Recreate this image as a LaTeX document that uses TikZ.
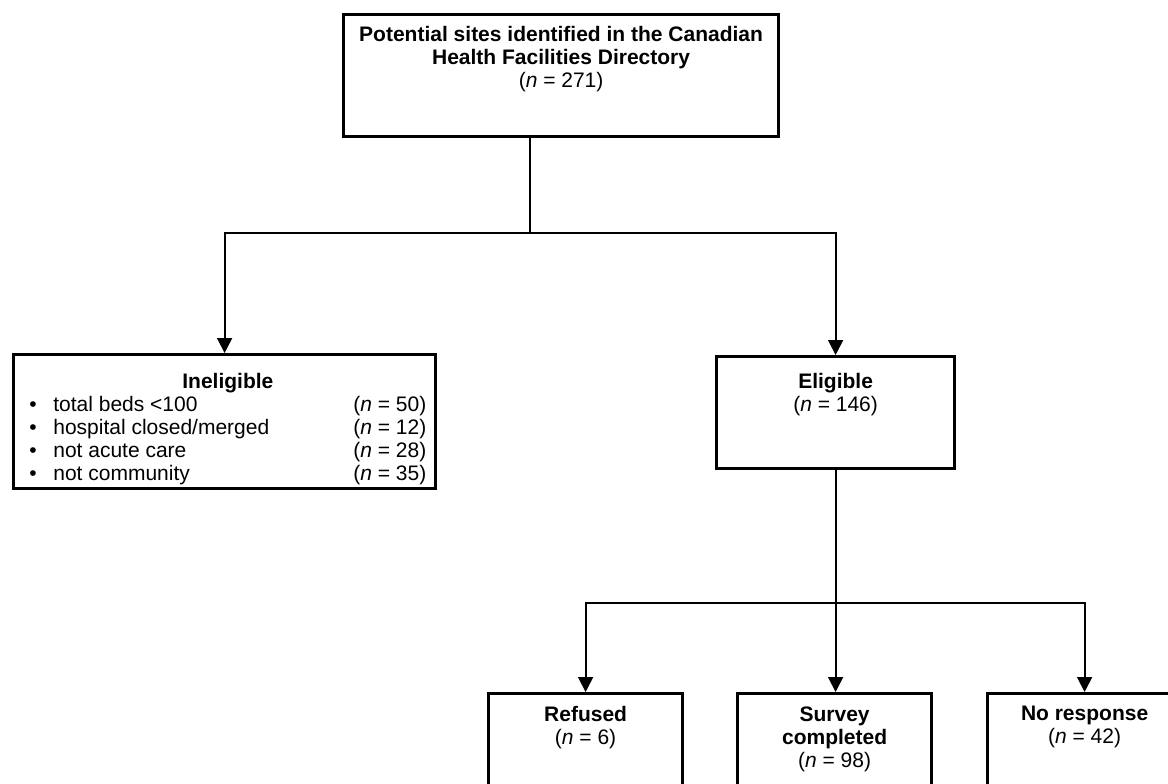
\documentclass[tikz,border=0pt]{standalone}
\usepackage{fontspec}
\setmainfont{Liberation Sans}
\usetikzlibrary{arrows.meta,positioning}

\begin{document}
\begin{tikzpicture}[x=0.5pt, y=-0.5pt,
    box/.style={draw, line width=1.6pt, inner sep=0pt},
    txt/.style={inner sep=0pt, align=center, font=\fontsize{10.5}{11.5}\selectfont},
    link/.style={line width=0.9pt},
    flow/.style={link, -{Triangle[length=7.5pt, width=7.5pt]}}]
      \useasboundingbox (0,0) rectangle (1168,783);

      % Boxes
      \node[box, anchor=north west, minimum width=217.5pt, minimum height=61pt] (sites) at (342,13) {};
      \node[box, anchor=north west, minimum width=211pt, minimum height=67pt] (inelig) at (12,353) {};
      \node[box, anchor=north west, minimum width=119pt, minimum height=56pt] (elig) at (715,355) {};
      \node[box, anchor=north west, minimum width=97pt, minimum height=60pt] (refused) at (487,692) {};
      \node[box, anchor=north west, minimum width=97pt, minimum height=60pt] (survey) at (736,692) {};
      \node[box, anchor=north west, minimum width=97pt, minimum height=60pt] (noresp) at (986,692) {};

      % Texts
      \node[txt, below=6.5pt of sites.north] (sitestxt)
        {\textbf{Potential sites identified in the Canadian}\\\textbf{Health Facilities Directory}\\(\textit{n} = 271)};
      \node[txt, anchor=north west] (ineligtxt) at ([xshift=8.5pt, yshift=-9.5pt]inelig.north west)
        {\begin{tabular}{@{}l@{\hspace{8.3pt}}p{150pt}@{}l@{}}
           \multicolumn{3}{c}{\textbf{Ineligible}}\\
           \textbullet & total beds <100 & (\textit{n} = 50)\\
           \textbullet & hospital closed/merged & (\textit{n} = 12)\\
           \textbullet & not acute care & (\textit{n} = 28)\\
           \textbullet & not community & (\textit{n} = 35)
         \end{tabular}};
      \node[txt, below=9pt of elig.north] (eligtxt) {\textbf{Eligible}\\(\textit{n} = 146)};
      \node[txt, below=7pt of refused.north] (refusedtxt) {\textbf{Refused}\\(\textit{n} = 6)};
      \node[txt, below=7pt of survey.north] (surveytxt) {\textbf{Survey}\\\textbf{completed}\\(\textit{n} = 98)};
      \node[txt, below=7pt of noresp.north] (noresptxt) {\textbf{No response}\\(\textit{n} = 42)};

      % Connectors
      \coordinate (split1) at (530,233);
      \coordinate (split2) at (elig.south |- 0,603);
      \draw[link] (sites.south -| split1) -- (split1);
      \draw[flow] (split1) -| (inelig.north);
      \draw[flow] (split1) -| (elig.north);
      \draw[link] (elig.south) -- (split2);
      \draw[flow] (split2) -| (refused.north);
      \draw[flow] (split2) -- (split2 |- survey.north);
      \draw[flow] (split2) -| (noresp.north);
    \end{tikzpicture}
\end{document}
